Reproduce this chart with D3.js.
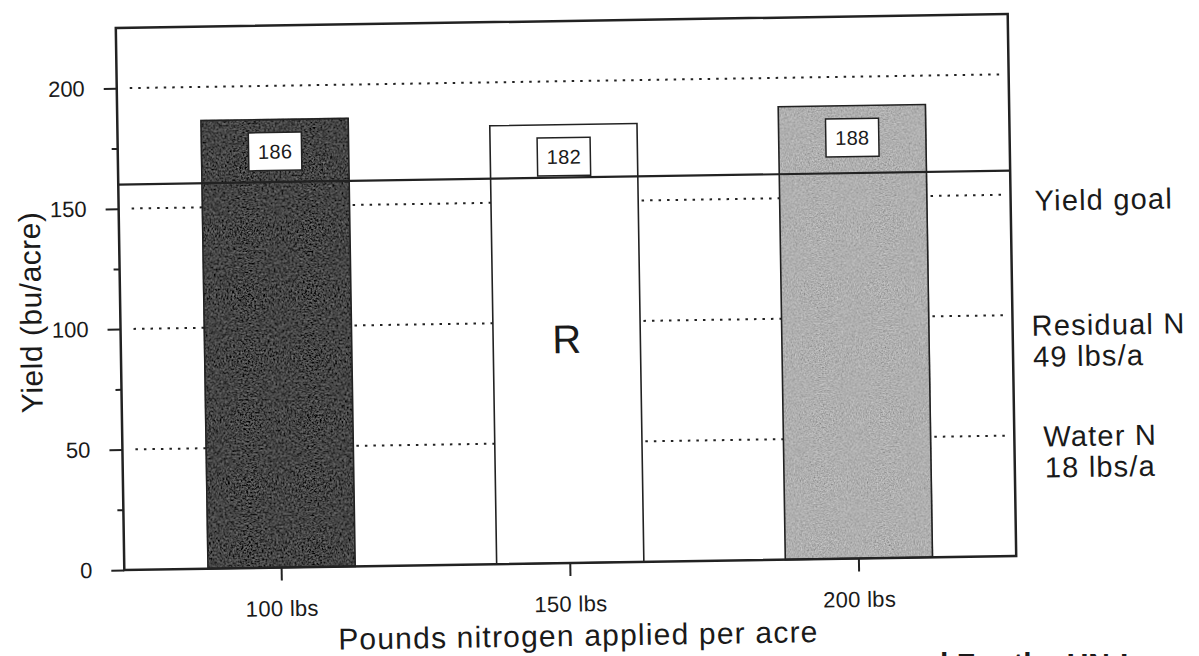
<!DOCTYPE html>
<html>
<head>
<meta charset="utf-8">
<script src="https://cdn.jsdelivr.net/npm/d3@7"></script>
<style>
  html, body { margin: 0; padding: 0; background: #fff; }
  svg { display: block; }
  text { font-family: "Liberation Sans", Arial, Helvetica, sans-serif; fill: #1a1a1a; }
</style>
</head>
<body>
<svg id="chart" width="1199" height="656"></svg>
<script>
// Nitrogen rate trial: yield by N applied, with yield goal and N credits
const categories = ["100 lbs", "150 lbs", "200 lbs"];
const yields = [186, 182, 188];
const yieldGoal = 160;
const majorTicks = [0, 50, 100, 150, 200];
const minorTicks = [25, 75, 125, 175];
const gridValues = [50, 100, 150, 200];
const goalLabel = "Yield goal";
const residualLabel = ["Residual N", "49 lbs/a"];
const waterLabel = ["Water N", "18 lbs/a"];
const recommendedMark = "R";
const xTitle = "Pounds nitrogen applied per acre";
const yTitle = "Yield (bu/acre)";

const svg = d3.select("#chart");
const frame = { left: 120, right: 1012, top: 21, bottom: 563 };

// --- halftone-like shading for the bars ---
const defs = svg.append("defs");
function speckle(id, freq, amount, seed) {
  const f = defs.append("filter").attr("id", id)
    .attr("x", 0).attr("y", 0).attr("width", 1).attr("height", 1);
  f.append("feTurbulence").attr("type", "fractalNoise")
    .attr("baseFrequency", freq).attr("numOctaves", 3).attr("seed", seed).attr("result", "noise");
  f.append("feColorMatrix").attr("in", "noise").attr("type", "matrix")
    .attr("values", "0.33 0.33 0.33 0 0  0.33 0.33 0.33 0 0  0.33 0.33 0.33 0 0  0 0 0 0 1")
    .attr("result", "gray");
  f.append("feComposite").attr("in", "SourceGraphic").attr("in2", "gray")
    .attr("operator", "arithmetic")
    .attr("k1", 0).attr("k2", 1).attr("k3", amount).attr("k4", -amount / 2);
}
speckle("darkTone", 0.55, 0.6, 4);
speckle("lightTone", 0.7, 0.9, 9);

const fillStyle = [
  { fill: "#454545", filter: "url(#darkTone)" },
  { fill: "#ffffff", filter: null },
  { fill: "#b0b0b0", filter: "url(#lightTone)" }
];

// whole page sits slightly askew
const g = svg.append("g").attr("transform", "rotate(-0.9, 566, 292)");

const y = d3.scaleLinear().domain([0, 225]).range([frame.bottom, frame.top]);
const x = d3.scaleBand().domain(categories).range([frame.left, frame.right])
  .paddingInner(0.49).paddingOuter(0.29);

// dotted reference lines
g.append("g").selectAll("line").data(gridValues).join("line")
  .attr("x1", frame.left + 13).attr("x2", frame.right - 8)
  .attr("y1", d => y(d)).attr("y2", d => y(d))
  .attr("stroke", "#222").attr("stroke-width", 2)
  .attr("stroke-dasharray", "2.5,6");

// bars
const bars = g.append("g").selectAll("g").data(categories).join("g");
bars.append("rect")
  .attr("x", d => x(d)).attr("width", x.bandwidth())
  .attr("y", (d, i) => y(yields[i])).attr("height", (d, i) => y(0) - y(yields[i]))
  .attr("fill", (d, i) => fillStyle[i].fill)
  .attr("filter", (d, i) => fillStyle[i].filter);
bars.append("rect")
  .attr("x", d => x(d)).attr("width", x.bandwidth())
  .attr("y", (d, i) => y(yields[i])).attr("height", (d, i) => y(0) - y(yields[i]))
  .attr("fill", "none").attr("stroke", "#222").attr("stroke-width", 1.6);

// yield goal line
g.append("line")
  .attr("x1", frame.left).attr("x2", frame.right)
  .attr("y1", y(yieldGoal)).attr("y2", y(yieldGoal))
  .attr("stroke", "#222").attr("stroke-width", 2.2);

// value boxes
const boxW = 53, boxH = 38;
bars.append("rect")
  .attr("x", d => x(d) + x.bandwidth() / 2 - boxW / 2)
  .attr("y", (d, i) => y(yields[i]) + 13)
  .attr("width", boxW).attr("height", boxH)
  .attr("fill", "#fff").attr("stroke", "#222").attr("stroke-width", 1.5);
bars.append("text")
  .attr("x", d => x(d) + x.bandwidth() / 2)
  .attr("y", (d, i) => y(yields[i]) + 13 + boxH / 2)
  .attr("dy", "0.36em").attr("text-anchor", "middle")
  .attr("font-size", 20).attr("letter-spacing", 0.3)
  .text((d, i) => yields[i]);

// recommended-rate marker in the middle bar
g.append("text")
  .attr("x", x(categories[1]) + x.bandwidth() / 2)
  .attr("y", y(100) + 31)
  .attr("text-anchor", "middle").attr("font-size", 40)
  .text(recommendedMark);

// frame
g.append("rect")
  .attr("x", frame.left).attr("y", frame.top)
  .attr("width", frame.right - frame.left).attr("height", frame.bottom - frame.top)
  .attr("fill", "none").attr("stroke", "#222").attr("stroke-width", 2.5);

// y axis: labelled major ticks and short minor ticks
const yMajor = g.append("g").attr("transform", `translate(${frame.left},0)`)
  .call(d3.axisLeft(y).tickValues(majorTicks).tickSize(13).tickPadding(19).tickFormat(d3.format("d")));
const yMinor = g.append("g").attr("transform", `translate(${frame.left},0)`)
  .call(d3.axisLeft(y).tickValues(minorTicks).tickSize(6).tickFormat(""));
[yMajor, yMinor].forEach(a => {
  a.select(".domain").remove();
  a.selectAll("line").attr("stroke", "#222").attr("stroke-width", 2);
});
yMajor.selectAll("text").attr("font-size", 22).attr("fill", "#1a1a1a")
  .attr("font-family", "'Liberation Sans', Arial, sans-serif");

// x axis
const xAxis = g.append("g").attr("transform", `translate(0,${frame.bottom})`)
  .call(d3.axisBottom(x).tickSize(13).tickPadding(20));
xAxis.select(".domain").remove();
xAxis.selectAll("line").attr("stroke", "#222").attr("stroke-width", 2);
xAxis.selectAll("text").attr("font-size", 22).attr("letter-spacing", 0.3).attr("fill", "#1a1a1a")
  .attr("font-family", "'Liberation Sans', Arial, sans-serif");

// axis titles
g.append("text")
  .attr("x", (frame.left + frame.right) / 2 + 7).attr("y", 646)
  .attr("text-anchor", "middle").attr("font-size", 30).attr("letter-spacing", 1.2)
  .text(xTitle);
g.append("text")
  .attr("transform", "translate(41,304) rotate(-90)")
  .attr("text-anchor", "middle").attr("font-size", 30).attr("letter-spacing", 0.5)
  .text(yTitle);

// notes to the right of the frame
const notes = g.append("g").attr("font-size", 29).attr("letter-spacing", 1.2);
notes.append("text").attr("x", 1036).attr("y", 218).text(goalLabel);
notes.append("text").attr("x", 1031).attr("y", 343).text(residualLabel[0]);
notes.append("text").attr("x", 1032).attr("y", 374).text(residualLabel[1]);
notes.append("text").attr("x", 1041).attr("y", 454).text(waterLabel[0]);
notes.append("text").attr("x", 1042).attr("y", 485).text(waterLabel[1]);

// start of the following page text, cut by the edge
svg.append("text")
  .attr("x", 930).attr("y", 674)
  .attr("font-family", "'Liberation Serif', 'Times New Roman', serif")
  .attr("font-weight", "bold").attr("font-size", 30)
  .text("d For the UN-L program");
</script>
</body>
</html>
